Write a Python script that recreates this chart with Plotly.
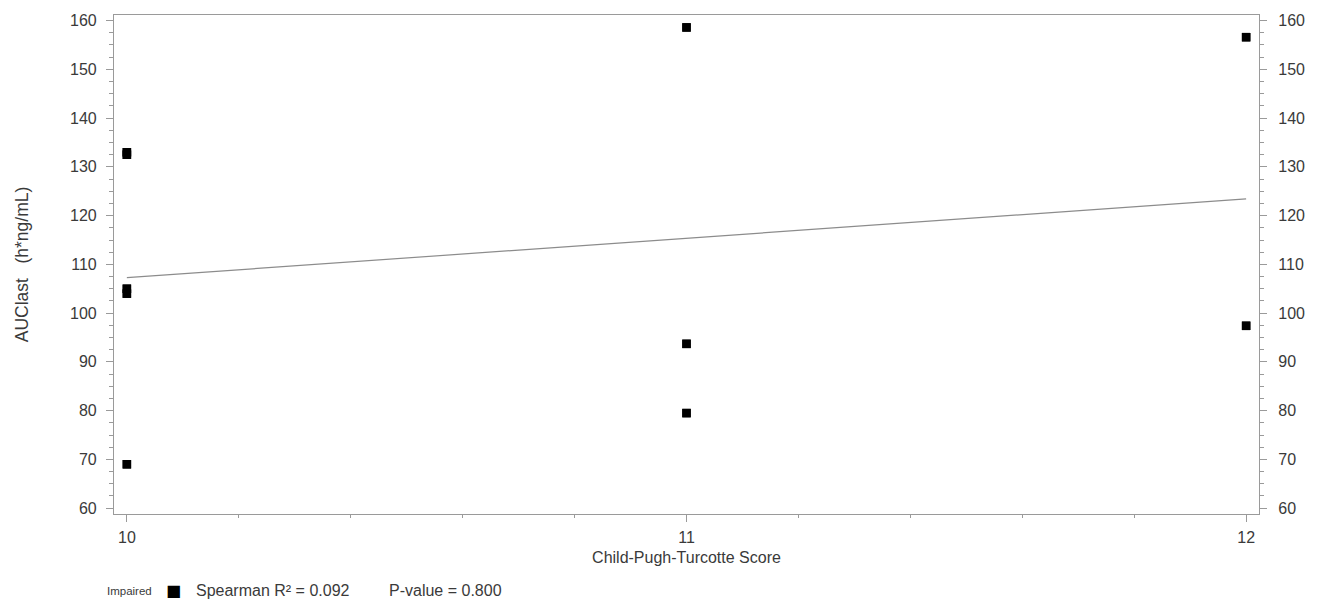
import numpy as np
import plotly.graph_objects as go

# Child-Pugh-Turcotte score and AUClast for each impaired subject
cpt_score = [10, 10, 10, 10, 10, 11, 11, 11, 12, 12]
auc_last = [69.0, 104.0, 105.0, 132.5, 133.0, 79.5, 93.7, 158.6, 97.4, 156.6]

x_tick_vals = [10, 11, 12]
y_tick_vals = [60, 70, 80, 90, 100, 110, 120, 130, 140, 150, 160]

group_label = "Impaired"
spearman_text = "Spearman R² = 0.092"
pvalue_text = "P-value = 0.800"

x_title = "Child-Pugh-Turcotte Score"
y_title = "AUClast   (h*ng/mL)"

# least-squares fit of AUClast on score
slope, intercept = np.polyfit(cpt_score, auc_last, 1)
fit_x = [min(cpt_score), max(cpt_score)]
fit_y = [intercept + slope * v for v in fit_x]

FONT = "Liberation Sans, Arial, sans-serif"
TXT = "#3a3a3a"
AXIS = "#9a9a9a"
y_range = [58.8, 161.15]
x_range = [9.977, 12.023]

fig = go.Figure()
fig.add_trace(go.Scatter(
    x=fit_x, y=fit_y, mode="lines",
    line=dict(color="#8c8c8c", width=1.2),
    showlegend=False, hoverinfo="skip",
))
fig.add_trace(go.Scatter(
    x=cpt_score, y=auc_last, mode="markers",
    marker=dict(symbol="square", size=8.5, color="black"),
    name=group_label, showlegend=False,
))
# same points on the right-hand axis so it is drawn alongside
fig.add_trace(go.Scatter(
    x=cpt_score, y=auc_last, mode="markers", yaxis="y2",
    marker=dict(symbol="square", size=8.5, color="black"),
    showlegend=False, hoverinfo="skip",
))

tick_font = dict(family=FONT, size=16, color=TXT)
minor_y = dict(ticks="outside", ticklen=3.5, tickcolor=AXIS, dtick=2.5,
               tick0=60, showgrid=False)

fig.update_layout(
    width=1321, height=604,
    margin=dict(l=114, r=62, t=13, b=90),
    paper_bgcolor="white", plot_bgcolor="white",
    font=dict(family=FONT, color=TXT),
    xaxis=dict(
        range=x_range, tickvals=x_tick_vals, ticks="outside", ticklen=7,
        tickcolor=AXIS, showline=True, linecolor=AXIS, linewidth=1.2,
        mirror=True, showgrid=False, zeroline=False, tickfont=tick_font,
        ticklabelstandoff=2,
        minor=dict(ticks="outside", ticklen=3, tickcolor=AXIS, dtick=0.2,
                   tick0=10, showgrid=False),
        title=dict(text=x_title, font=dict(family=FONT, size=16, color=TXT),
                   standoff=6),
    ),
    yaxis=dict(
        range=y_range, tickvals=y_tick_vals, ticks="outside", ticklen=7,
        tickcolor=AXIS, showline=True, linecolor=AXIS, linewidth=1.2,
        showgrid=False, zeroline=False, tickfont=tick_font,
        ticklabelstandoff=6, minor=minor_y,
        title=dict(text=y_title, font=dict(family=FONT, size=17.5, color=TXT),
                   standoff=36),
    ),
    yaxis2=dict(
        range=y_range, tickvals=y_tick_vals, ticks="outside", ticklen=7,
        tickcolor=AXIS, showline=True, linecolor=AXIS, linewidth=1.2,
        overlaying="y", side="right", showgrid=False, zeroline=False,
        tickfont=tick_font, ticklabelstandoff=8, minor=minor_y,
    ),
)

# key row beneath the plot
key_y = -0.1536
fig.add_annotation(xref="paper", yref="paper", x=-0.0075, y=key_y,
                   xanchor="left", yanchor="middle", showarrow=False,
                   text=group_label, font=dict(family=FONT, size=11.5, color=TXT))
fig.add_annotation(xref="paper", yref="paper", x=0.0524, y=key_y,
                   xanchor="center", yanchor="middle", showarrow=False,
                   text="■", font=dict(family="DejaVu Sans", size=16, color="black"))
fig.add_annotation(xref="paper", yref="paper", x=0.0695, y=key_y,
                   xanchor="left", yanchor="middle", showarrow=False,
                   text=spearman_text, font=dict(family=FONT, size=16, color=TXT))
fig.add_annotation(xref="paper", yref="paper", x=0.238, y=key_y,
                   xanchor="left", yanchor="middle", showarrow=False,
                   text=pvalue_text, font=dict(family=FONT, size=16, color=TXT))

fig.write_html("out.html")
